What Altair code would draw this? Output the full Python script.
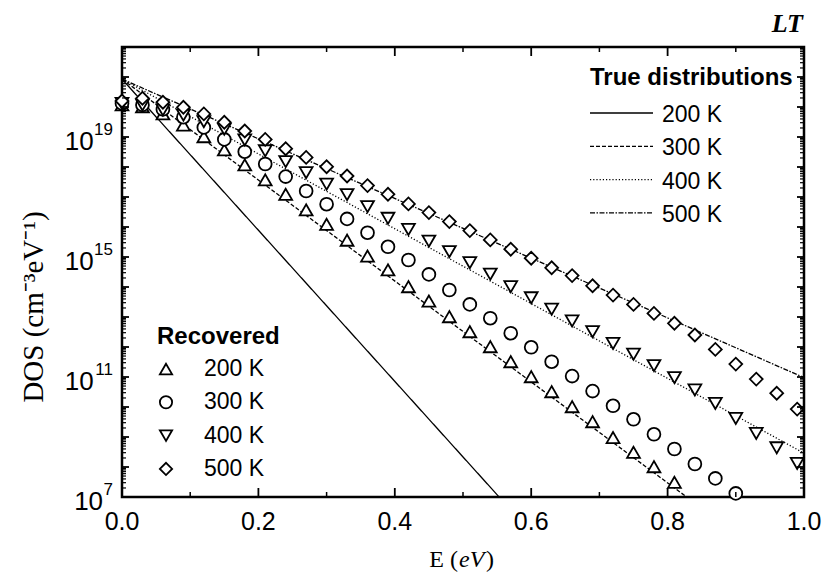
import altair as alt
import pandas as pd

# ---------------- data ----------------
E = [0.00, 0.03, 0.06, 0.09, 0.12, 0.15, 0.18, 0.21, 0.24, 0.27, 0.30, 0.33,
     0.36, 0.39, 0.42, 0.45, 0.48, 0.51, 0.54, 0.57, 0.60, 0.63, 0.66, 0.69,
     0.72, 0.75, 0.78, 0.81, 0.84, 0.87, 0.90, 0.93, 0.96, 0.99]

# log10 of the recovered DOS (cm^-3 eV^-1)
REC_200K = [20.07, 20.01, 19.77, 19.40, 19.01, 18.57, 18.07, 17.57, 17.09, 16.57, 16.09, 15.56,
            15.03, 14.57, 14.01, 13.53, 13.01, 12.51, 12.01, 11.51, 11.01, 10.51, 10.01, 9.51,
            8.98, 8.49, 8.01, 7.49]
REC_300K = [20.12, 20.07, 19.92, 19.66, 19.32, 18.92, 18.51, 18.10, 17.68, 17.20, 16.76, 16.27,
            15.81, 15.34, 14.90, 14.42, 13.90, 13.42, 12.96, 12.46, 11.99, 11.51, 11.03, 10.53,
            10.04, 9.59, 9.09, 8.60, 8.10, 7.62, 7.12]
REC_400K = [20.12, 20.07, 19.90, 19.73, 19.51, 19.26, 18.90, 18.54, 18.18, 17.81, 17.43, 17.08,
            16.68, 16.29, 15.92, 15.53, 15.18, 14.81, 14.43, 14.01, 13.64, 13.26, 12.87, 12.51,
            12.12, 11.76, 11.38, 10.98, 10.57, 10.12, 9.62, 9.12, 8.64, 8.12]
REC_500K = [20.20, 20.29, 20.16, 19.99, 19.77, 19.49, 19.20, 18.92, 18.61, 18.32, 18.01, 17.70,
            17.38, 17.09, 16.77, 16.48, 16.18, 15.88, 15.57, 15.26, 14.96, 14.64, 14.38, 14.04,
            13.73, 13.42, 13.12, 12.79, 12.40, 11.92, 11.43, 10.93, 10.46, 9.93]

# true distributions (straight lines on the log plot): E and log10(DOS)
TRUE_E_200K = [0.0, 0.553]
TRUE_LOG_200K = [20.93, 7.0]
TRUE_E_300K = [0.0, 0.828]
TRUE_LOG_300K = [20.93, 7.0]
TRUE_E_400K = [0.0, 1.0]
TRUE_LOG_400K = [20.93, 8.46]
TRUE_E_500K = [0.0, 1.0]
TRUE_LOG_500K = [20.93, 10.98]

LABELS = ["200 K", "300 K", "400 K", "500 K"]
SHAPES = ["triangle-up", "circle", "triangle-down", "diamond"]
DASHES = [[1, 0], [4, 2], [1.2, 2], [5, 1.5, 1.5, 1.5]]

X_MAJOR = [0.0, 0.2, 0.4, 0.6, 0.8, 1.0]
X_MINOR = [0.1, 0.3, 0.5, 0.7, 0.9]
Y_LABEL_EXP = [7, 11, 15, 19]
Y_MAJOR = [10.0 ** k for k in range(7, 23)]
Y_MINOR = [m * 10.0 ** k for k in range(7, 22) for m in range(2, 10)]

# ---------------- tables ----------------
rec_rows = []
for lab, vals in zip(LABELS, [REC_200K, REC_300K, REC_400K, REC_500K]):
    for e, v in zip(E, vals):
        rec_rows.append({"Rec": lab, "E": e, "DOS": 10.0 ** v})
df_rec = pd.DataFrame(rec_rows)

true_rows = []
for lab, es, vs in zip(LABELS,
                       [TRUE_E_200K, TRUE_E_300K, TRUE_E_400K, TRUE_E_500K],
                       [TRUE_LOG_200K, TRUE_LOG_300K, TRUE_LOG_400K, TRUE_LOG_500K]):
    for e, v in zip(es, vs):
        true_rows.append({"True": lab, "E": e, "DOS": 10.0 ** v})
df_true = pd.DataFrame(true_rows)

W, H = 682, 450
FONT = "Liberation Sans"
SERIF = "Liberation Serif"

xs = alt.Scale(domain=[0, 1], nice=False, zero=False)
ys = alt.Scale(type="log", domain=[1e7, 1e22], nice=False)
dash_scale = alt.Scale(domain=LABELS, range=DASHES)
shape_scale = alt.Scale(domain=LABELS, range=SHAPES)

lines = alt.Chart(df_true).mark_line(color="black", strokeWidth=1.3, clip=True).encode(
    x=alt.X("E:Q", scale=xs, axis=None),
    y=alt.Y("DOS:Q", scale=ys, axis=None),
    strokeDash=alt.StrokeDash("True:N", scale=dash_scale, legend=None),
    order="E:Q",
)

points = alt.Chart(df_rec).mark_point(filled=True, fill="white", stroke="black",
                                      strokeWidth=1.8, size=165, opacity=1).encode(
    x=alt.X("E:Q", scale=xs, axis=None),
    y=alt.Y("DOS:Q", scale=ys, axis=None),
    shape=alt.Shape("Rec:N", scale=shape_scale, legend=None),
)

# ---------------- inward ticks ----------------
def xticks(vals, length, sw):
    d = pd.DataFrame({"v": vals})
    bot = alt.Chart(d).mark_rule(color="black", strokeWidth=sw).encode(
        x=alt.X("v:Q", scale=xs, axis=None), y=alt.value(H), y2=alt.value(H - length))
    top = alt.Chart(d).mark_rule(color="black", strokeWidth=sw).encode(
        x=alt.X("v:Q", scale=xs, axis=None), y=alt.value(0), y2=alt.value(length))
    return [bot, top]

def yticks(vals, length, sw):
    d = pd.DataFrame({"v": vals})
    left = alt.Chart(d).mark_rule(color="black", strokeWidth=sw).encode(
        y=alt.Y("v:Q", scale=ys, axis=None), x=alt.value(0), x2=alt.value(length))
    right = alt.Chart(d).mark_rule(color="black", strokeWidth=sw).encode(
        y=alt.Y("v:Q", scale=ys, axis=None), x=alt.value(W), x2=alt.value(W - length))
    return [left, right]

tick_layers = (xticks(X_MAJOR, 9, 1.8) + xticks(X_MINOR, 5, 1.5)
               + yticks(Y_MAJOR, 7, 1.8) + yticks(Y_MINOR, 4, 1.2))

# ---------------- x tick labels ----------------
xlab = alt.Chart(pd.DataFrame({"v": X_MAJOR})).mark_text(
    align="center", baseline="middle", fontSize=25, font=FONT, color="black").encode(
    x=alt.X("v:Q", scale=xs, axis=None),
    y=alt.value(H + 25),
    text=alt.Text("v:Q", format=".1f"),
)

# ---------------- y tick labels 10^n ----------------
df_ylab = pd.DataFrame({"v": [10.0 ** e for e in Y_LABEL_EXP],
                        "e": [str(e) for e in Y_LABEL_EXP]})
ylab_base = alt.Chart(df_ylab).transform_calculate(
    xr="-9.5 - 9.45*length(datum.e)"
).mark_text(align="right", baseline="middle", fontSize=26, font=FONT, dy=5, color="black").encode(
    x=alt.X("xr:Q", scale=None, axis=None),
    y=alt.Y("v:Q", scale=ys, axis=None),
    text=alt.value("10"),
)
ylab_exp = alt.Chart(df_ylab).mark_text(align="right", baseline="middle", fontSize=17,
                                        font=FONT, dy=-7, color="black").encode(
    x=alt.value(-9),
    y=alt.Y("v:Q", scale=ys, axis=None),
    text="e:N",
)

# ---------------- titles ----------------
df_one = pd.DataFrame({"k": [0]})
ytitle = alt.Chart(df_one).mark_text(angle=270, font=SERIF, fontSize=29, align="center",
                                     baseline="alphabetic", color="black").encode(
    x=alt.value(-79), y=alt.value(260), text=alt.value("DOS (cm\u207b\u00b3eV\u207b\u00b9)"))
xt1 = alt.Chart(df_one).mark_text(font=SERIF, fontSize=24, align="right",
                                  baseline="alphabetic", color="black").encode(
    x=alt.value(336), y=alt.value(520), text=alt.value("E ("))
xt2 = alt.Chart(df_one).mark_text(font=SERIF, fontSize=24, fontStyle="italic", align="left",
                                  baseline="alphabetic", color="black").encode(
    x=alt.value(337), y=alt.value(520), text=alt.value("eV"))
xt3 = alt.Chart(df_one).mark_text(font=SERIF, fontSize=24, align="left",
                                  baseline="alphabetic", color="black").encode(
    x=alt.value(364), y=alt.value(520), text=alt.value(")"))
lt = alt.Chart(df_one).mark_text(font=SERIF, fontSize=26, fontStyle="italic", fontWeight="bold",
                                 align="right", baseline="alphabetic", color="black").encode(
    x=alt.value(681), y=alt.value(-15), text=alt.value("LT"))

# ---------------- legends ----------------
df_leg = pd.DataFrame({"True": LABELS, "Rec": LABELS, "i": list(range(len(LABELS)))})

leg1_title = alt.Chart(df_one).mark_text(font=FONT, fontSize=24, fontWeight="bold", align="left",
                                         baseline="middle", color="black").encode(
    x=alt.value(468), y=alt.value(31), text=alt.value("True distributions"))
leg1_lines = alt.Chart(df_leg).transform_calculate(yy="66 + 33.3*datum.i").mark_rule(
    color="black", strokeWidth=1.3).encode(
    x=alt.value(468), x2=alt.value(531),
    y=alt.Y("yy:Q", scale=None, axis=None),
    strokeDash=alt.StrokeDash("True:N", scale=dash_scale, legend=None),
)
leg1_text = alt.Chart(df_leg).transform_calculate(yy="68 + 33.3*datum.i").mark_text(
    font=FONT, fontSize=23, align="left", baseline="middle", color="black").encode(
    x=alt.value(540), y=alt.Y("yy:Q", scale=None, axis=None), text="True:N")

leg2_title = alt.Chart(df_one).mark_text(font=FONT, fontSize=24, fontWeight="bold", align="left",
                                         baseline="middle", color="black").encode(
    x=alt.value(35), y=alt.value(290), text=alt.value("Recovered"))
leg2_pts = alt.Chart(df_leg).transform_calculate(yy="322 + 33.3*datum.i").mark_point(
    filled=True, fill="white", stroke="black", strokeWidth=1.8, size=150, opacity=1).encode(
    x=alt.value(44), y=alt.Y("yy:Q", scale=None, axis=None),
    shape=alt.Shape("Rec:N", scale=shape_scale, legend=None))
leg2_text = alt.Chart(df_leg).transform_calculate(yy="322 + 33.3*datum.i").mark_text(
    font=FONT, fontSize=23, align="left", baseline="middle", color="black").encode(
    x=alt.value(82), y=alt.Y("yy:Q", scale=None, axis=None), text="Rec:N")

chart = alt.layer(
    lines, points, *tick_layers, xlab, ylab_base, ylab_exp, ytitle, xt1, xt2, xt3, lt,
    leg1_title, leg1_lines, leg1_text, leg2_title, leg2_pts, leg2_text,
).properties(
    width=W, height=H,
    autosize=alt.AutoSizeParams(type="none"),
    padding={"left": 122, "top": 47, "right": 25, "bottom": 83},
    background="white",
).configure_view(stroke="black", strokeWidth=2.5)

chart.save("out.html", embed_options={"renderer": "svg", "actions": False})
